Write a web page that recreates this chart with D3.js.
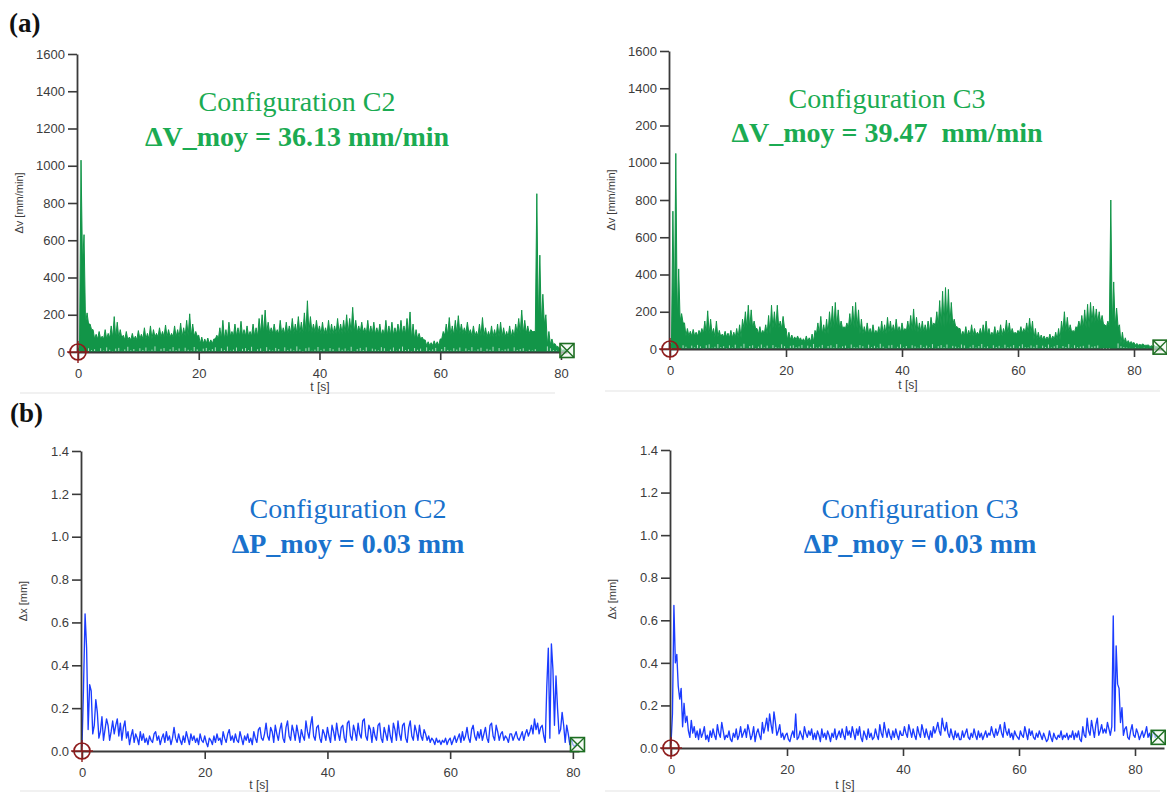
<!DOCTYPE html>
<html>
<head>
<meta charset="utf-8">
<script src="https://cdn.jsdelivr.net/npm/d3@7"></script>
<style>
  html, body { margin: 0; padding: 0; background: #fff; }
  svg { display: block; }
</style>
</head>
<body>
<svg id="chart" width="1167" height="792"></svg>
<script>
// ---------------- DATA ----------------
const dtA = 0.5;    // step (s) of the read-off velocity peaks
const dtBody = 2.5; // step (s) of the read-off solid body level
const dtB = 0.25;   // step (s) of the read-off position series

// (a) C2 : velocity deviation, local peaks, mm/min, t = 0..81 s
const dvC2Peaks = [
  20,1030,630,210,150,120,95,110,85,120,
  100,140,190,160,120,90,110,80,100,85,
  115,95,130,100,140,120,100,130,110,145,
  120,100,140,120,155,130,170,205,150,110,
  90,80,70,75,65,70,90,130,170,120,
  160,110,150,130,165,120,140,110,150,130,
  180,200,225,160,130,150,120,170,130,160,
  140,180,150,190,160,210,275,190,150,170,
  140,160,130,170,150,140,180,150,170,200,
  180,240,170,140,160,130,170,140,160,130,
  150,120,170,140,160,130,150,170,140,180,
  215,150,120,100,80,65,55,50,60,55,
  70,110,150,185,140,170,195,150,130,160,
  120,140,110,150,185,130,110,140,120,150,
  160,130,110,140,120,150,180,225,170,140,
  120,110,850,520,310,200,110,70,45,30,
  20,12,8
];
// lowest dips between peaks (white gaps near the axis), mm/min
const dvC2Troughs = [
  0,470,60,20,10,15,5,20,8,25,
  12,3,18,22,6,14,28,9,16,4,
  20,11,24,7,13,30,5,17,21,2,
  15,26,10,19,6,23,12,8,27,14,
  3,18,22,9,16,25,5,20,11,29,
  7,13,24,4,17,21,10,28,6,15,
  19,3,26,12,8,22,16,5,25,11,
  18,9,30,14,2,20,24,7,13,27,
  10,17,4,21,15,6,23,12,19,8,
  28,3,16,22,11,25,5,18,14,9,
  26,20,4,13,24,7,17,29,10,15,
  3,21,12,18,6,25,9,14,22,5,
  16,27,11,8,20,13,24,4,19,10,
  26,7,15,23,2,17,12,28,6,21,
  9,14,18,5,25,11,16,20,3,12,
  8,15,60,80,50,30,20,10,8,5,
  4,3,2
];
// level of the solid green body, every 2.5 s, mm/min
const dvC2Body = [150,70,75,65,70,80,80,85,45,70,85,85,100,95,100,105,95,100,105,95,90,95,70,35,90,100,85,80,80,100,150,40,8];

// (a) C3 : t = 0..84.5 s
const dvC3Peaks = [
  30,740,1050,430,190,140,110,95,105,90,
  100,110,150,205,160,110,150,100,80,95,
  85,100,90,110,130,160,200,235,210,150,
  110,120,100,130,180,235,200,235,150,175,
  110,90,75,65,70,60,55,70,60,80,
  100,140,175,130,160,200,230,250,210,150,
  120,140,190,230,250,210,160,120,140,110,
  130,100,120,150,130,170,150,130,160,120,
  140,110,150,180,215,170,140,150,130,150,
  170,140,200,260,310,330,320,250,160,120,
  110,95,120,100,130,110,90,110,130,150,
  110,90,120,100,130,110,155,140,110,90,
  100,120,110,140,165,150,110,90,75,70,
  65,80,70,90,110,150,200,170,130,100,
  120,150,180,210,240,250,230,215,200,180,
  130,150,800,360,220,130,90,60,45,40,
  35,30,25,28,20,22,18,20,12,10
];
const dvC3Troughs = [
  0,40,70,40,20,12,5,18,9,22,
  14,4,20,25,7,12,26,10,15,3,
  19,8,23,6,14,28,4,16,20,2,
  13,24,9,18,5,21,11,7,25,15,
  4,17,20,10,14,22,6,18,12,27,
  8,12,22,5,16,20,9,26,7,14,
  18,4,24,11,9,21,15,6,23,10,
  17,8,28,13,3,19,22,6,12,25,
  9,16,5,20,14,7,22,11,18,9,
  26,4,15,21,10,24,6,17,13,8,
  24,19,5,12,22,8,16,27,9,14,
  4,20,11,17,7,23,10,13,21,6,
  15,25,10,9,19,12,22,5,18,11,
  24,8,14,21,3,16,11,26,7,20,
  10,13,17,6,23,12,15,19,4,0,
  0,0,70,50,30,15,10,8,6,5,
  8,6,5,7,4,6,3,5,2,1
];
const dvC3Body = [150,70,80,65,60,110,80,110,50,40,80,110,110,80,80,90,95,90,120,130,70,75,70,80,85,50,50,90,110,140,120,30,20,12];

// (b) C2 : position deviation, mm, t = 0..80.75 s
const dxC2 = [
  0.02,0.30,0.64,0.48,0.10,0.31,0.28,0.08,0.12,0.24,0.18,0.06,0.09,0.16,0.05,0.10,0.15,0.12,0.05,0.09,
  0.14,0.08,0.12,0.15,0.07,0.13,0.05,0.11,0.14,0.06,0.09,0.03,0.07,0.10,0.04,0.08,0.06,0.03,0.09,0.05,
  0.08,0.04,0.06,0.03,0.07,0.05,0.04,0.08,0.09,0.05,0.07,0.03,0.06,0.08,0.04,0.09,0.05,0.07,0.03,0.06,
  0.11,0.06,0.04,0.08,0.05,0.03,0.07,0.04,0.09,0.06,0.03,0.08,0.05,0.07,0.04,0.06,0.03,0.08,0.05,0.04,
  0.07,0.04,0.02,0.06,0.05,0.03,0.07,0.04,0.08,0.05,0.06,0.03,0.09,0.06,0.04,0.08,0.10,0.05,0.07,0.04,
  0.08,0.05,0.04,0.09,0.06,0.03,0.07,0.05,0.08,0.04,0.06,0.03,0.09,0.06,0.04,0.10,0.11,0.06,0.05,0.08,
  0.13,0.07,0.05,0.11,0.09,0.04,0.12,0.08,0.05,0.10,0.13,0.06,0.04,0.11,0.14,0.07,0.05,0.12,0.09,0.05,
  0.12,0.08,0.04,0.10,0.07,0.05,0.14,0.09,0.06,0.12,0.16,0.07,0.05,0.11,0.12,0.06,0.04,0.10,0.08,0.05,
  0.11,0.07,0.04,0.12,0.09,0.05,0.13,0.08,0.05,0.11,0.12,0.06,0.04,0.13,0.14,0.07,0.05,0.12,0.09,0.05,
  0.13,0.08,0.06,0.14,0.15,0.07,0.05,0.12,0.10,0.04,0.11,0.07,0.05,0.12,0.13,0.06,0.04,0.11,0.08,0.05,
  0.12,0.07,0.04,0.13,0.10,0.05,0.14,0.08,0.05,0.12,0.13,0.06,0.04,0.11,0.14,0.07,0.05,0.12,0.09,0.05,
  0.12,0.07,0.05,0.10,0.08,0.05,0.07,0.04,0.06,0.05,0.03,0.06,0.04,0.05,0.03,0.05,0.04,0.06,0.03,0.05,
  0.06,0.03,0.05,0.07,0.04,0.06,0.08,0.04,0.09,0.05,0.07,0.11,0.06,0.04,0.10,0.12,0.07,0.05,0.09,0.06,
  0.10,0.05,0.08,0.11,0.06,0.04,0.12,0.13,0.07,0.05,0.12,0.09,0.05,0.08,0.09,0.05,0.07,0.06,0.04,0.08,
  0.08,0.05,0.07,0.09,0.06,0.05,0.07,0.09,0.05,0.08,0.10,0.07,0.09,0.12,0.08,0.15,0.10,0.13,0.08,0.11,
  0.12,0.07,0.04,0.30,0.48,0.06,0.50,0.38,0.12,0.35,0.20,0.08,0.10,0.18,0.12,0.04,0.12,0.08,0.03,0.06,
  0.03,0.02,0.03,0.03
];

// (b) C3 : t = 0..84 s
const dxC3 = [
  0.02,0.16,0.67,0.40,0.44,0.29,0.23,0.28,0.10,0.21,0.12,0.15,0.08,0.05,0.13,0.07,0.10,0.05,0.08,0.04,
  0.09,0.05,0.07,0.10,0.04,0.06,0.03,0.08,0.05,0.09,0.06,0.04,0.11,0.07,0.05,0.12,0.08,0.04,0.06,0.05,
  0.08,0.04,0.03,0.07,0.05,0.09,0.04,0.06,0.10,0.05,0.07,0.09,0.05,0.11,0.08,0.04,0.06,0.10,0.03,0.07,
  0.09,0.06,0.04,0.12,0.07,0.10,0.14,0.08,0.16,0.11,0.07,0.17,0.12,0.06,0.08,0.11,0.05,0.07,0.04,0.06,
  0.07,0.04,0.03,0.06,0.08,0.05,0.16,0.04,0.05,0.08,0.06,0.04,0.10,0.07,0.05,0.08,0.06,0.09,0.04,0.07,
  0.04,0.08,0.06,0.03,0.09,0.05,0.07,0.04,0.08,0.06,0.03,0.07,0.05,0.09,0.04,0.06,0.08,0.05,0.09,0.06,
  0.04,0.10,0.06,0.08,0.05,0.10,0.07,0.04,0.09,0.06,0.10,0.05,0.03,0.08,0.06,0.04,0.09,0.05,0.07,0.04,
  0.05,0.09,0.06,0.04,0.11,0.07,0.05,0.12,0.08,0.05,0.09,0.06,0.04,0.08,0.05,0.09,0.06,0.04,0.08,0.06,
  0.06,0.10,0.07,0.05,0.11,0.08,0.05,0.09,0.06,0.04,0.10,0.07,0.05,0.11,0.08,0.05,0.09,0.06,0.04,0.08,
  0.05,0.10,0.07,0.09,0.12,0.08,0.06,0.14,0.10,0.08,0.12,0.07,0.05,0.09,0.06,0.04,0.08,0.05,0.07,0.04,
  0.04,0.08,0.05,0.07,0.09,0.05,0.04,0.07,0.05,0.09,0.06,0.04,0.08,0.05,0.07,0.04,0.06,0.08,0.05,0.07,
  0.06,0.10,0.07,0.05,0.09,0.06,0.08,0.11,0.07,0.05,0.12,0.08,0.06,0.09,0.05,0.07,0.04,0.08,0.06,0.05,
  0.04,0.08,0.06,0.05,0.10,0.07,0.04,0.09,0.06,0.08,0.05,0.04,0.07,0.05,0.08,0.06,0.04,0.07,0.05,0.03,
  0.04,0.08,0.05,0.03,0.07,0.05,0.04,0.06,0.05,0.08,0.04,0.06,0.05,0.07,0.04,0.06,0.05,0.08,0.04,0.07,
  0.05,0.08,0.04,0.03,0.10,0.06,0.05,0.14,0.08,0.06,0.13,0.09,0.05,0.11,0.14,0.06,0.08,0.11,0.07,0.09,
  0.07,0.12,0.09,0.06,0.10,0.62,0.08,0.48,0.30,0.28,0.12,0.19,0.06,0.09,0.10,0.05,0.04,0.08,0.11,0.06,
  0.05,0.09,0.07,0.04,0.06,0.08,0.05,0.07,0.10,0.05,0.07,0.04,0.06,0.08,0.05,0.06,0.05
];

// ticks
const xTickValues = [0, 20, 40, 60, 80];
const xTickLabels = ["0", "20", "40", "60", "80"];
const dvTickValues = [0, 200, 400, 600, 800, 1000, 1200, 1400, 1600];
const dvTickLabelsC2 = ["0", "200", "400", "600", "800", "1000", "1200", "1400", "1600"];
const dvTickLabelsC3 = ["0", "200", "400", "600", "800", "1000", "200", "1400", "1600"];
const dxTickValues = [0, 0.2, 0.4, 0.6, 0.8, 1.0, 1.2, 1.4];
const dxTickLabels = ["0.0", "0.2", "0.4", "0.6", "0.8", "1.0", "1.2", "1.4"];

// texts
const titlesA = ["Configuration C2", "Configuration C3"];
const subtitlesA = ["\u0394V_moy = 36.13 mm/min", "\u0394V_moy = 39.47  mm/min"];
const titlesB = ["Configuration C2", "Configuration C3"];
const subtitlesB = ["\u0394P_moy = 0.03 mm", "\u0394P_moy = 0.03 mm"];
const yTitleA = "\u0394v [mm/min]";
const yTitleB = "\u0394x [mm]";
const xTitle = "t [s]";

// ---------------- DRAW ----------------
const svg = d3.select("#chart");
const GREEN_DATA = "#129548";
const GREEN_TEXT = "#1bab52";
const BLUE_DATA = "#1b3cff";
const BLUE_TEXT = "#1a72cc";
const AXIS = "#3a3a3a";
const LABEL = "#3c3c3c";
const sansFont = "'Liberation Sans', Arial, sans-serif";
const serifFont = "'Liberation Serif', 'Times New Roman', serif";

svg.append("text").attr("x", 9).attr("y", 32).text("(a)")
  .attr("font-family", serifFont).attr("font-weight", "bold").attr("font-size", 27).attr("fill", "#111");
svg.append("text").attr("x", 10).attr("y", 422).text("(b)")
  .attr("font-family", serifFont).attr("font-weight", "bold").attr("font-size", 27).attr("fill", "#111");

function panel(cfg) {
  const g = svg.append("g");
  const x = d3.scaleLinear().domain(cfg.xDomain).range(cfg.xRange);
  const y = d3.scaleLinear().domain(cfg.yDomain).range(cfg.yRange);

  g.append("line").attr("x1", cfg.frame[0]).attr("x2", cfg.frame[1])
    .attr("y1", cfg.frame[2]).attr("y2", cfg.frame[2])
    .attr("stroke", "#ececec").attr("stroke-width", 1.5);

  const line = d3.line().x(d => x(d[0])).y(d => y(d[1]));
  if (cfg.filled) {
    const area = d3.area().x(d => x(d[0])).y0(y(0)).y1(d => y(d[1]));
    g.append("path").datum(cfg.points).attr("fill", cfg.color).attr("d", area);
    // small white gaps where the signal dips down near zero
    g.selectAll(".gap").data(cfg.gaps.filter(d => d[1] <= 30)).join("line")
      .attr("x1", d => x(d[0])).attr("x2", d => x(d[0]))
      .attr("y1", y(0) - 1).attr("y2", d => y(d[1]))
      .attr("stroke", "#fff").attr("stroke-width", 0.8).attr("stroke-opacity", 0.85);
  }
  g.append("path").datum(cfg.points)
    .attr("fill", "none").attr("stroke", cfg.color)
    .attr("stroke-width", cfg.strokeWidth).attr("stroke-linejoin", "round")
    .attr("d", line);

  const ax = g.append("g").attr("transform", `translate(0,${y(0)})`)
    .call(d3.axisBottom(x).tickValues(xTickValues)
      .tickFormat((d, i) => xTickLabels[i]).tickSize(8).tickSizeOuter(0).tickPadding(9));
  const ay = g.append("g").attr("transform", `translate(${x(0) - 1},0)`)
    .call(d3.axisLeft(y).tickValues(cfg.yTicks)
      .tickFormat((d, i) => cfg.yLabels[i]).tickSize(9).tickSizeOuter(0).tickPadding(3));
  [ax, ay].forEach(a => {
    a.select(".domain").attr("stroke", AXIS).attr("stroke-width", 1.8);
    a.selectAll(".tick line").attr("stroke", AXIS).attr("stroke-width", 1.6);
    a.selectAll(".tick text").attr("fill", LABEL).attr("font-family", sansFont).attr("font-size", 13);
  });

  g.append("text").attr("transform", `translate(${x(0) - 55},${(cfg.yRange[0] + cfg.yRange[1]) / 2}) rotate(-90)`)
    .attr("text-anchor", "middle").attr("font-family", sansFont).attr("font-size", 11)
    .attr("fill", LABEL).text(cfg.yTitle);
  g.append("text").attr("x", cfg.xTitlePos[0]).attr("y", cfg.xTitlePos[1])
    .attr("text-anchor", "middle").attr("font-family", sansFont).attr("font-size", 12)
    .attr("fill", LABEL).text(xTitle);

  const sm = g.append("g").attr("transform", `translate(${x(0)},${y(0)})`);
  sm.append("circle").attr("r", 8).attr("fill", "none").attr("stroke", "#8e1b1b").attr("stroke-width", 1.7);
  sm.append("line").attr("x1", -11).attr("x2", 11).attr("stroke", "#8e1b1b").attr("stroke-width", 1.4);
  sm.append("line").attr("y1", -11).attr("y2", 11).attr("stroke", "#8e1b1b").attr("stroke-width", 1.4);

  const em = g.append("g").attr("transform", `translate(${x(cfg.endT)},${y(cfg.endV)})`);
  em.append("rect").attr("x", -7).attr("y", -7).attr("width", 14).attr("height", 14)
    .attr("fill", "#eef7ee").attr("fill-opacity", 0.6).attr("stroke", "#1d6e22").attr("stroke-width", 1.6);
  em.append("line").attr("x1", -7).attr("y1", -7).attr("x2", 7).attr("y2", 7).attr("stroke", "#1d6e22").attr("stroke-width", 1.4);
  em.append("line").attr("x1", -7).attr("y1", 7).attr("x2", 7).attr("y2", -7).attr("stroke", "#1d6e22").attr("stroke-width", 1.4);

  g.append("text").attr("x", cfg.titlePos[0]).attr("y", cfg.titlePos[1])
    .attr("text-anchor", "middle").attr("font-family", serifFont).attr("font-size", 28)
    .attr("fill", cfg.textColor).text(cfg.title);
  g.append("text").attr("x", cfg.titlePos[0]).attr("y", cfg.titlePos[2])
    .attr("text-anchor", "middle").attr("font-family", serifFont).attr("font-size", 28)
    .attr("font-weight", "bold").attr("fill", cfg.textColor)
    .style("white-space", "pre").text(cfg.subtitle);
}

// peaks alternate with the body level (or a deeper/higher read-off trough where one was read)
function zigzag(peaks, troughs, body) {
  const pts = [];
  peaks.forEach((p, i) => {
    pts.push([i * dtA, p]);
    if (i < peaks.length - 1) {
      const t = i * dtA + dtA / 2;
      const b = body[Math.min(body.length - 1, Math.floor(t / dtBody))];
      const v = Math.max(troughs[i], Math.min(b, p, peaks[i + 1]));
      pts.push([t, v]);
    }
  });
  return pts;
}
function gapsOf(troughs, n) {
  return troughs.slice(0, n - 1).map((v, i) => [i * dtA + dtA / 2, v]);
}
function series(vals) { return vals.map((v, i) => [i * dtB, v]); }

panel({
  points: zigzag(dvC2Peaks, dvC2Troughs, dvC2Body), gaps: gapsOf(dvC2Troughs, dvC2Peaks.length),
  filled: true, color: GREEN_DATA, strokeWidth: 1.0,
  xDomain: [0, 81], xRange: [78, 567], yDomain: [0, 1600], yRange: [352, 54],
  yTicks: dvTickValues, yLabels: dvTickLabelsC2, yTitle: yTitleA, xTitlePos: [320, 391],
  endT: (dvC2Peaks.length - 1) * dtA, endV: dvC2Peaks[dvC2Peaks.length - 1],
  title: titlesA[0], subtitle: subtitlesA[0], textColor: GREEN_TEXT, titlePos: [297, 111, 146],
  frame: [20, 555, 393]
});
panel({
  points: zigzag(dvC3Peaks, dvC3Troughs, dvC3Body), gaps: gapsOf(dvC3Troughs, dvC3Peaks.length),
  filled: true, color: GREEN_DATA, strokeWidth: 1.0,
  xDomain: [0, 85], xRange: [670, 1163], yDomain: [0, 1600], yRange: [349, 51],
  yTicks: dvTickValues, yLabels: dvTickLabelsC3, yTitle: yTitleA, xTitlePos: [908, 389],
  endT: (dvC3Peaks.length - 1) * dtA, endV: dvC3Peaks[dvC3Peaks.length - 1],
  title: titlesA[1], subtitle: subtitlesA[1], textColor: GREEN_TEXT, titlePos: [887, 108, 142],
  frame: [605, 1160, 391]
});
panel({
  points: series(dxC2), filled: false, color: BLUE_DATA, strokeWidth: 1.35,
  xDomain: [0, 81], xRange: [82, 579], yDomain: [0, 1.4], yRange: [751, 451],
  yTicks: dxTickValues, yLabels: dxTickLabels, yTitle: yTitleB, xTitlePos: [259, 789],
  endT: (dxC2.length - 1) * dtB, endV: dxC2[dxC2.length - 1],
  title: titlesB[0], subtitle: subtitlesB[0], textColor: BLUE_TEXT, titlePos: [348, 518, 553],
  frame: [20, 560, 791]
});
panel({
  points: series(dxC3), filled: false, color: BLUE_DATA, strokeWidth: 1.35,
  xDomain: [0, 85], xRange: [671, 1164], yDomain: [0, 1.4], yRange: [748, 450],
  yTicks: dxTickValues, yLabels: dxTickLabels, yTitle: yTitleB, xTitlePos: [845, 789],
  endT: (dxC3.length - 1) * dtB, endV: dxC3[dxC3.length - 1],
  title: titlesB[1], subtitle: subtitlesB[1], textColor: BLUE_TEXT, titlePos: [920, 518, 553],
  frame: [605, 1160, 791]
});
</script>
</body>
</html>
